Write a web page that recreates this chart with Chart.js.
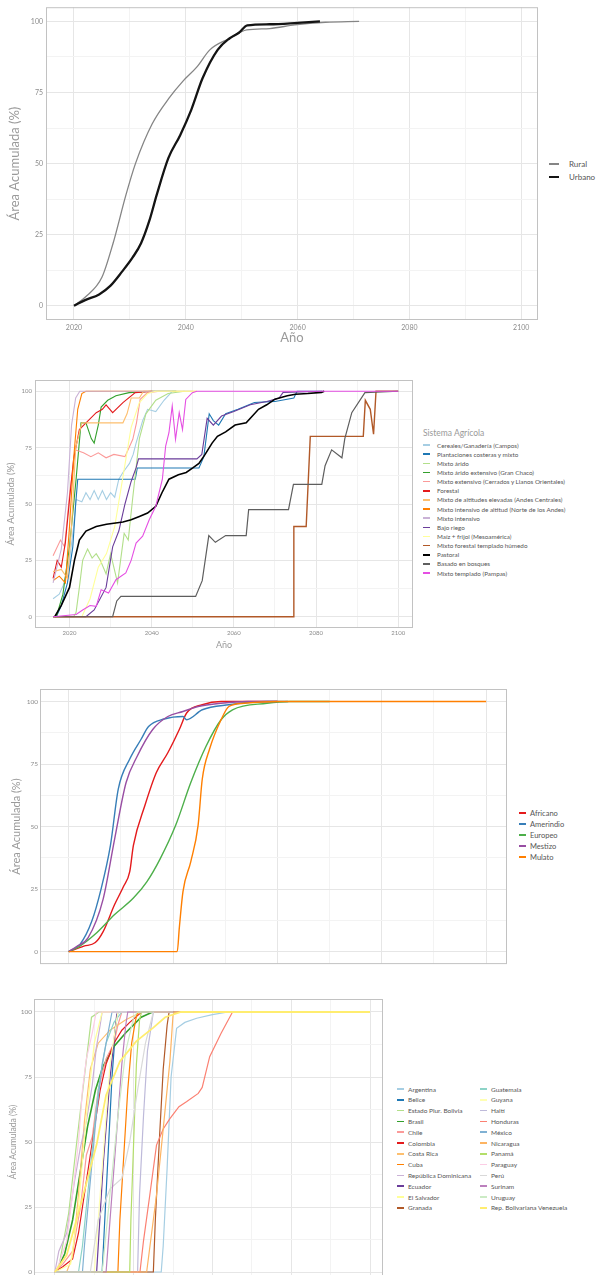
<!DOCTYPE html>
<html>
<head>
<meta charset="utf-8">
<script src="https://cdn.jsdelivr.net/npm/chart.js@4.4.1/dist/chart.umd.min.js"></script>
<style>
  html, body { margin: 0; padding: 0; background: #fff; width: 598px; height: 1275px; overflow: hidden; }
  body { position: relative; font-family: Lato, "Open Sans", sans-serif; }
  canvas { position: absolute; left: 0; }
  .leg { position: absolute; height: 12px; display: flex; align-items: center; color: #555; white-space: nowrap; }
  .leg .key { display: inline-block; }
  .legtitle { position: absolute; color: #999; white-space: nowrap; }
</style>
</head>
<body>
<canvas id="c1" width="545" height="350" style="top:0px"></canvas>
<canvas id="c2" width="420" height="300" style="top:355px"></canvas>
<canvas id="c3" width="515" height="310" style="top:660px"></canvas>
<canvas id="c4" width="390" height="320" style="top:975px"></canvas>
<script>
// ---- chart 1: rural / urbano ----
const zonas = ["Rural", "Urbano"];
const zonaColors = ["#858585", "#141414"];
const rural = [[2020,0],[2022,3],[2025,10],[2027,22],[2029.3,39],[2031,50],[2034,64],[2037,73],[2039.5,79],[2042,84],[2044.3,90],[2047.8,94],[2050.9,97],[2055,97.5],[2059.5,98.8],[2065,99.7],[2071,100]];
const urbano = [[2020,0],[2022,2],[2024.5,4],[2026.5,7],[2028.6,12],[2030.5,17],[2032,22],[2033.5,30],[2034.8,39],[2036.9,52],[2039,60],[2041,69],[2043,80],[2045.7,90],[2047.8,94],[2049.5,96],[2051,98.6],[2055,99],[2060,99.5],[2064,100]];

// ---- chart 2: sistema agricola ----
const sistemas = ["Cereales/Ganadería (Campos)", "Plantaciones costeras y mixto", "Mixto árido", "Mixto árido extensivo (Gran Chaco)", "Mixto extensivo (Cerrados y Llanos Orientales)", "Forestal", "Mixto de altitudes elevadas (Andes Centrales)", "Mixto intensivo de altitud (Norte de los Andes)", "Mixto intensivo", "Bajo riego", "Maíz + frijol (Mesoamérica)", "Mixto forestal templado húmedo", "Pastoral", "Basado en bosques", "Mixto templado (Pampas)"];
const sistemaColors = ["#a6cee3", "#1f78b4", "#b2df8a", "#33a02c", "#fb9a99", "#e31a1c", "#fdbf6f", "#ff7f00", "#cab2d6", "#6a3d9a", "#ffff99", "#b15928", "#000000", "#5e5e5e", "#e54fe3"];
const campos = [[2016,8],[2017.5,10],[2018.5,14],[2020,25],[2021,40],[2021.6,52],[2023,51],[2024,55],[2025,52],[2026,56],[2027,52],[2028,56],[2029,52],[2030,55],[2031,53],[2032,61],[2033,64],[2034.6,68],[2035.5,72],[2036.2,77],[2037.8,87],[2039,92],[2041,91],[2043,96],[2045,100],[2050,100]];
const plantaciones = [[2016.8,0],[2018,5],[2019.5,15],[2020.8,31],[2021.5,50],[2022,61],[2036,61],[2036.5,66],[2051.5,66],[2052.7,71],[2054,90],[2055,87],[2056.3,85],[2058,90],[2061,92],[2065,95],[2070,95.5],[2074.6,97],[2075.4,100],[2081.5,100]];
const mixtoArido = [[2016,0],[2021,0],[2021.6,2],[2022.4,13],[2023.2,25],[2024.4,30],[2025.5,26],[2026.5,28],[2027.5,25],[2028.9,19],[2030,28],[2031.7,15],[2033.3,37],[2034.3,34],[2035.4,53],[2037,79],[2038.6,90],[2041,96],[2044,99],[2048,100]];
const granChaco = [[2016.8,0],[2018.4,10],[2020,31],[2021.6,61],[2022.8,86],[2024,86],[2025.3,79],[2026,77],[2027,85],[2027.7,93],[2029.3,96],[2031.3,98],[2034.5,99.4],[2040,100],[2046,100]];
const cerrados = [[2016,27],[2017.8,34],[2018.8,31],[2020.1,56],[2021.5,74],[2023.4,72.7],[2025.2,71],[2027,72.7],[2028.9,70.5],[2030.8,72],[2033.5,71],[2035.4,78.7],[2036.3,86],[2037.2,96.4],[2039,99.4],[2042,100]];
const forestal = [[2016,17],[2017,25],[2018,22],[2019,33],[2020,52],[2021,70],[2022.4,83],[2024,86],[2026.5,90.5],[2028,92],[2028.9,94],[2030.5,90.5],[2033,95],[2036,99.4],[2040.2,100]];
const andesCentrales = [[2016,20],[2018,21],[2019.5,17],[2020.5,40],[2021.5,75],[2023,86],[2026,86],[2029,86],[2033,86],[2034,90],[2035,97],[2037,97],[2038,100],[2051,100]];
const norteAndes = [[2016,16],[2017.5,18],[2019,15],[2020,40],[2021,70],[2022,92],[2023,99],[2024,100],[2040,100]];
const mixtoIntensivo = [[2016,15],[2018,30],[2019.5,55],[2020.5,85],[2021.5,97],[2022.5,100],[2045,100]];
const bajoRiego = [[2016,0],[2024,0],[2026,3],[2028.9,13],[2030.5,31],[2032,38],[2033.5,50],[2035,60],[2036.2,66],[2036.8,70],[2051,70],[2052.2,72],[2053.5,88],[2055,85],[2057,89],[2060,91],[2064,94],[2068,95.5],[2071,97],[2072,99.5],[2082,100]];
const maizFrijol = [[2016,0],[2023,0],[2025,8],[2027,22],[2029,28],[2031,40],[2033,62],[2035,84],[2037,95],[2039,99],[2041,100],[2051,100]];
const templadoHumedo = [[2016,0],[2074.5,0],[2074.6,40],[2077.6,40],[2078.6,80],[2091.5,80],[2092,96],[2093.2,92],[2094,81],[2094.6,100],[2100,100]];
const pastoral = [[2016.4,0],[2018,5],[2020,13],[2021.2,25],[2022.4,34],[2024,38],[2026.5,40],[2029,41],[2033,42],[2035,43],[2037,44.5],[2039,46],[2041,49],[2042.5,55],[2044.2,61],[2046.5,63],[2048.4,64],[2050,66],[2051.5,68],[2053,72],[2054.7,77],[2056,80],[2058,82],[2060.3,85],[2063,86],[2066,92],[2068,94],[2070,96.5],[2073,98],[2075,98.7],[2078,99],[2081.3,99.5],[2082,100]];
const bosques = [[2016,0],[2030.5,0],[2031.5,7],[2032.5,9],[2050.7,9],[2052.3,16],[2053.9,36],[2055.5,33],[2058,36],[2063,36],[2063.6,47.5],[2073.3,47.5],[2074.5,58.7],[2081.4,58.7],[2082.2,67],[2083.8,74],[2086.3,70.5],[2087,79],[2088.7,90.5],[2091.9,99.4],[2100,100]];
const pampas = [[2016,0],[2021.6,1],[2023.2,3],[2025,5],[2026.5,4.6],[2027.7,12],[2029.5,10.5],[2031.3,16.4],[2033.7,19.4],[2035,25],[2036.2,32.7],[2037.8,35.7],[2039.4,43],[2041,49],[2042.6,61],[2043.4,75.7],[2044.2,81.6],[2045,93.5],[2045.8,78.7],[2046.7,90.5],[2047.5,83],[2048.3,96.4],[2049.9,99.4],[2051,100],[2100,100]];

// ---- chart 3: grupo etnico ----
const grupos = ["Africano", "Amerindio", "Europeo", "Mestizo", "Mulato"];
const grupoColors = ["#e41a1c", "#377eb8", "#4daf4a", "#984ea3", "#ff7f00"];
const africano = [[2020,0],[2022.9,2.2],[2025.1,3.6],[2026.6,8],[2028.8,18.8],[2030.5,26],[2031.7,32],[2032.4,42.5],[2034.6,58.4],[2036.8,71.6],[2039,79.5],[2041.2,88.8],[2042.6,95.4],[2045.6,98.7],[2049.2,100],[2060,100]];
const amerindio = [[2020,0],[2022.2,3],[2024.4,12],[2026.2,25],[2028,42.5],[2029.5,65],[2031.7,77],[2033.9,85],[2035.3,90],[2038.3,93],[2041.9,94],[2042.6,92.7],[2045.6,96.7],[2050.7,98.7],[2058,100],[2062,100]];
const europeo = [[2020,0],[2022,2],[2025.1,7],[2028.8,14.8],[2032.4,21.4],[2035,28],[2037.5,37],[2040.5,50.5],[2043.4,67.6],[2046.3,82],[2049.2,92.7],[2051.4,96.7],[2058,99.3],[2062.4,100],[2070,100]];
const mestizo = [[2020,0],[2021.5,2],[2023.7,5.5],[2026.6,21],[2028.8,45],[2031,67.6],[2033.1,78],[2036.1,88.8],[2039,94],[2041.9,96],[2044.8,98],[2049.2,99.3],[2054.3,100],[2060,100]];
const mulato = [[2020,0],[2040.8,0],[2041.2,9.5],[2041.9,24],[2043.4,36],[2044.8,50.5],[2045.6,69],[2047,81],[2049.2,92.7],[2050.7,98],[2053.6,99.3],[2060,100],[2100,100]];

// ---- chart 4: paises ----
const paises = ["Argentina", "Belice", "Estado Plur. Bolivia", "Brasil", "Chile", "Colombia", "Costa Rica", "Cuba", "República Dominicana", "Ecuador", "El Salvador", "Granada", "Guatemala", "Guyana", "Haití", "Honduras", "México", "Nicaragua", "Panamá", "Paraguay", "Perú", "Surinam", "Uruguay", "Rep. Bolivariana Venezuela"];
const paisColors = ["#a6cee3", "#1f78b4", "#b2df8a", "#33a02c", "#fb9a99", "#e31a1c", "#fdbf6f", "#ff7f00", "#cab2d6", "#6a3d9a", "#ffff99", "#b15928", "#8dd3c7", "#ffffb3", "#bebada", "#fb8072", "#80b1d3", "#fdb462", "#b3de69", "#fccde5", "#d9d9d9", "#bc80bd", "#ccebc5", "#ffed6f"];
const argentina = [[2020,0],[2047,0],[2047.5,10],[2048.5,40],[2049.5,75],[2050.9,93.7],[2053,96],[2056,97.6],[2060,99],[2064,100],[2070,100]];
const belice = [[2020,0],[2032,0],[2032.5,15],[2033.5,45],[2034.5,75],[2035.5,95],[2036,100],[2040,100]];
const bolivia = [[2020,0],[2021,2],[2023.5,22.6],[2025.4,48],[2027.4,74],[2029.3,98],[2031.2,100],[2040,100]];
const brasil = [[2020,0],[2020.6,0.8],[2022.5,7],[2024.5,20],[2026.4,38],[2028.3,56],[2030.3,70],[2032.2,79],[2035,86.7],[2038,92],[2041.9,98],[2044.8,100],[2050,100]];
const chile = [[2020,0],[2022,3],[2024.5,8],[2026.5,25],[2028,45],[2029.5,52],[2031,70],[2033,82],[2035,88],[2036,95],[2037,100],[2045,100]];
const colombia = [[2020,0],[2022,2],[2024.5,5],[2026,15],[2028,35],[2030,55],[2031.5,70],[2033,80],[2035,88],[2037,93],[2039,96],[2042,100],[2050,100]];
const costaRica = [[2020,0],[2023,0],[2024.5,6],[2026,30],[2027.5,58],[2029,78],[2031,88],[2034,93],[2038,97],[2042,100],[2050,100]];
const cuba = [[2020,0],[2036,0],[2036.5,20],[2037.5,45],[2038.5,70],[2039.5,88],[2040.5,97],[2041,100],[2050,100]];
const repDominicana = [[2020,0],[2021,8],[2023,15],[2025,35],[2026.5,48],[2028,58],[2029.5,72],[2030.5,86],[2031.5,95],[2032,100],[2040,100]];
const ecuador = [[2020,0],[2030.6,0],[2032.3,42],[2034,74.5],[2035.7,99],[2036,100],[2040,100]];
const elSalvador = [[2020,0],[2024,3],[2026,25],[2028,60],[2030,88],[2032,100],[2040,100]];
const granada = [[2020,0],[2045,0],[2045.5,20],[2046.5,50],[2047.5,78],[2048.5,95],[2049,100],[2055,100]];
const guatemala = [[2020,0],[2026,0],[2027,10],[2029,40],[2031,70],[2033,88],[2035,96],[2037,100],[2045,100]];
const guyana = [[2020,0],[2030,0],[2032,40],[2034,80],[2036,100],[2045,100]];
const haiti = [[2020,0],[2041,0],[2041.5,30],[2042.5,60],[2043.5,85],[2045,100],[2050,100]];
const honduras = [[2020,0],[2041.6,0],[2042.5,12],[2044.1,29.6],[2045.8,48.8],[2047.5,55],[2049.2,59],[2051.5,63.6],[2053.4,65.5],[2056.4,68.7],[2057.4,71],[2059.3,82.8],[2062.2,91.8],[2065.1,100],[2070,100]];
const mexico = [[2020,0],[2027,0],[2027.5,10],[2029,35],[2030.5,60],[2032,80],[2033.5,92],[2034.5,100],[2040,100]];
const nicaragua = [[2020,0],[2043.3,0],[2045.8,29.6],[2047.5,55],[2049.2,81],[2050,99],[2050.5,100],[2055,100]];
const panama = [[2020,0],[2039,0],[2039.3,20],[2040,50],[2040.7,80],[2041.5,97],[2042,100],[2045,100]];
const paraguay = [[2020,0],[2021,3],[2023,12],[2024.5,30],[2026,50],[2027,70],[2028,82],[2029.5,92],[2030.5,100],[2040,100]];
const peru = [[2020,0],[2029,0],[2031,20],[2034,32],[2037,36],[2039,50],[2041,70],[2043,88],[2045,100],[2050,100]];
const surinam = [[2020,0],[2033,0],[2034,20],[2035.5,50],[2037,80],[2038,95],[2038.5,100],[2045,100]];
const uruguay = [[2020,0],[2032,0],[2034,30],[2036,60],[2038,85],[2040,98],[2041,100],[2045,100]];
const venezuela = [[2020,0],[2023,6.5],[2026.3,24.5],[2030.6,49],[2033,68],[2036.5,81],[2040.7,88.8],[2045,94],[2048,98],[2052,100],[2100,100]];

const yTicks = [0, 12.5, 25, 37.5, 50, 62.5, 75, 87.5, 100];
const xTicks = [2020, 2030, 2040, 2050, 2060, 2070, 2080, 2090, 2100];

const FAM = 'Lato, "Open Sans", sans-serif';
const MAJOR = '#e6e6e6', MINOR = '#f3f3f3';

const panelBox = {
  id: 'panelBox',
  afterDraw(chart) {
    const a = chart.chartArea, c = chart.ctx;
    c.save();
    c.strokeStyle = '#c2c2c2';
    c.lineWidth = 1;
    c.strokeRect(a.left + 0.5, a.top + 0.5, a.right - a.left - 1, a.bottom - a.top - 1);
    c.restore();
  }
};

function makeChart(id, o) {
  const n = o.series.length;
  return new Chart(document.getElementById(id), {
    type: 'line',
    data: {
      datasets: o.series.map((pts, i) => ({
        label: o.names[i],
        data: pts.map(p => ({ x: p[0], y: p[1] })),
        borderColor: o.colors[i],
        borderWidth: (o.widths && o.widths[i]) || o.lineWidth,
        pointRadius: 0,
        fill: false,
        tension: 0,
        cubicInterpolationMode: o.smooth ? 'monotone' : 'default',
        order: n - i
      }))
    },
    options: {
      responsive: false,
      animation: false,
      events: [],
      layout: { padding: { top: o.padTop, right: o.padRight, left: 0, bottom: 0 } },
      plugins: { legend: { display: false }, tooltip: { enabled: false } },
      scales: {
        x: {
          type: 'linear', min: o.xMin, max: o.xMax,
          afterBuildTicks: s => { s.ticks = xTicks.map(v => ({ value: v })); },
          afterFit: s => { s.height = o.xHeight; },
          border: { display: false },
          grid: { drawTicks: false, lineWidth: 1, color: c => (c.tick && c.tick.value % 20 === 0) ? MAJOR : MINOR },
          ticks: {
            display: o.showX, autoSkip: false, maxRotation: 0, padding: o.xPad || 2,
            color: '#8c8c8c', font: { size: o.tickSize, family: FAM },
            callback: v => (v % 20 === 0 ? v : '')
          },
          title: {
            display: !!o.xTitle, text: o.xTitle, color: '#9a9a9a',
            font: { size: o.xTitleSize || 10, family: FAM }, padding: { top: 0, bottom: o.xTitlePad || 0 }
          }
        },
        y: {
          min: -5, max: 105,
          afterBuildTicks: s => { s.ticks = yTicks.map(v => ({ value: v })); },
          afterFit: s => { s.width = o.yWidth; },
          border: { display: false },
          grid: { drawTicks: false, lineWidth: 1, color: c => (c.tick && c.tick.value % 25 === 0) ? MAJOR : MINOR },
          ticks: {
            padding: o.yPad, color: '#8c8c8c', font: { size: o.tickSize, family: FAM },
            callback: v => (v % 25 === 0 ? v : '')
          },
          title: {
            display: true, text: 'Área Acumulada (%)', color: '#9a9a9a',
            font: { size: o.yTitleSize, family: FAM }, padding: { top: o.yTitlePad, bottom: 0 }
          }
        }
      }
    },
    plugins: [panelBox]
  });
}

function addLegend(names, colors, o) {
  names.forEach((name, i) => {
    const col = o.perCol ? Math.floor(i / o.perCol) : 0;
    const row = o.perCol ? i % o.perCol : i;
    const d = document.createElement('div');
    d.className = 'leg';
    d.style.left = (o.x + col * (o.colGap || 0)) + 'px';
    d.style.top = (o.y + row * o.dy - 6) + 'px';
    d.style.fontSize = o.size + 'px';
    const k = document.createElement('span');
    k.className = 'key';
    k.style.background = colors[i];
    k.style.width = o.keyW + 'px';
    k.style.height = ((o.keyH && o.keyH[i]) || 1.5) + 'px';
    k.style.marginRight = o.gap + 'px';
    d.appendChild(k);
    d.appendChild(document.createTextNode(name));
    document.body.appendChild(d);
  });
}

// chart 1
makeChart('c1', {
  series: [rural, urbano], names: zonas, colors: zonaColors, widths: [1.3, 2.3], lineWidth: 1.3, smooth: true,
  xMin: 2015, xMax: 2103, padTop: 7, padRight: 7, yWidth: 46, xHeight: 30,
  showX: true, xPad: 4, tickSize: 7, xTitle: 'Año', xTitleSize: 13, xTitlePad: 4,
  yPad: 3, yTitleSize: 13, yTitlePad: 7
});
addLegend(zonas, zonaColors, { x: 549, y: 164, dy: 13, size: 8, keyW: 10, gap: 10, keyH: [2, 2.6] });

// chart 2
makeChart('c2', {
  series: [campos, plantaciones, mixtoArido, granChaco, cerrados, forestal, andesCentrales, norteAndes, mixtoIntensivo, bajoRiego, maizFrijol, templadoHumedo, pastoral, bosques, pampas],
  names: sistemas, colors: sistemaColors, widths: [0,0,0,0,0,0,0,0,0,0,0,1.4,1.6,1.2,0], lineWidth: 1.1,
  xMin: 2011.6, xMax: 2103.6, padTop: 25, padRight: 7, yWidth: 35, xHeight: 27,
  showX: true, xPad: 1, tickSize: 6, xTitle: 'Año', xTitleSize: 9, xTitlePad: 5,
  yPad: 3, yTitleSize: 9.5, yTitlePad: 5
});
const t2 = document.createElement('div');
t2.className = 'legtitle';
t2.style.left = '423px'; t2.style.top = '428px'; t2.style.fontSize = '8.5px';
t2.textContent = 'Sistema Agrícola';
document.body.appendChild(t2);
addLegend(sistemas, sistemaColors, { x: 423, y: 445, dy: 9.15, size: 6.3, keyW: 7, gap: 7 });

// chart 3
makeChart('c3', {
  series: [africano, amerindio, europeo, mestizo, mulato], names: grupos, colors: grupoColors, lineWidth: 1.4, smooth: true,
  xMin: 2014.5, xMax: 2104, padTop: 29, padRight: 8, yWidth: 40, xHeight: 3,
  showX: false, tickSize: 6.5, yPad: 2, yTitleSize: 11, yTitlePad: 10
});
addLegend(grupos, grupoColors, { x: 519, y: 813, dy: 11, size: 7.5, keyW: 7, gap: 4, keyH: [2,1.5,1.5,2,1.5] });

// chart 4
makeChart('c4', {
  series: [argentina, belice, bolivia, brasil, chile, colombia, costaRica, cuba, repDominicana, ecuador, elSalvador, granada, guatemala, guyana, haiti, honduras, mexico, nicaragua, panama, paraguay, peru, surinam, uruguay, venezuela],
  names: paises, colors: paisColors, widths: [0,0,0,1.6,0,0,0,0,0,0,0,0,0,0,0,0,0,0,0,0,0,0,0,1.8], lineWidth: 1.2,
  xMin: 2014.7, xMax: 2103.3, padTop: 24, padRight: 7, yWidth: 34, xHeight: 10,
  showX: false, tickSize: 6.5, yPad: 2, yTitleSize: 8.5, yTitlePad: 8
});
addLegend(paises, paisColors, { x: 397, y: 1089, dy: 10.8, size: 6.5, keyW: 7, gap: 4, perCol: 12, colGap: 83 });
</script>
</body>
</html>
